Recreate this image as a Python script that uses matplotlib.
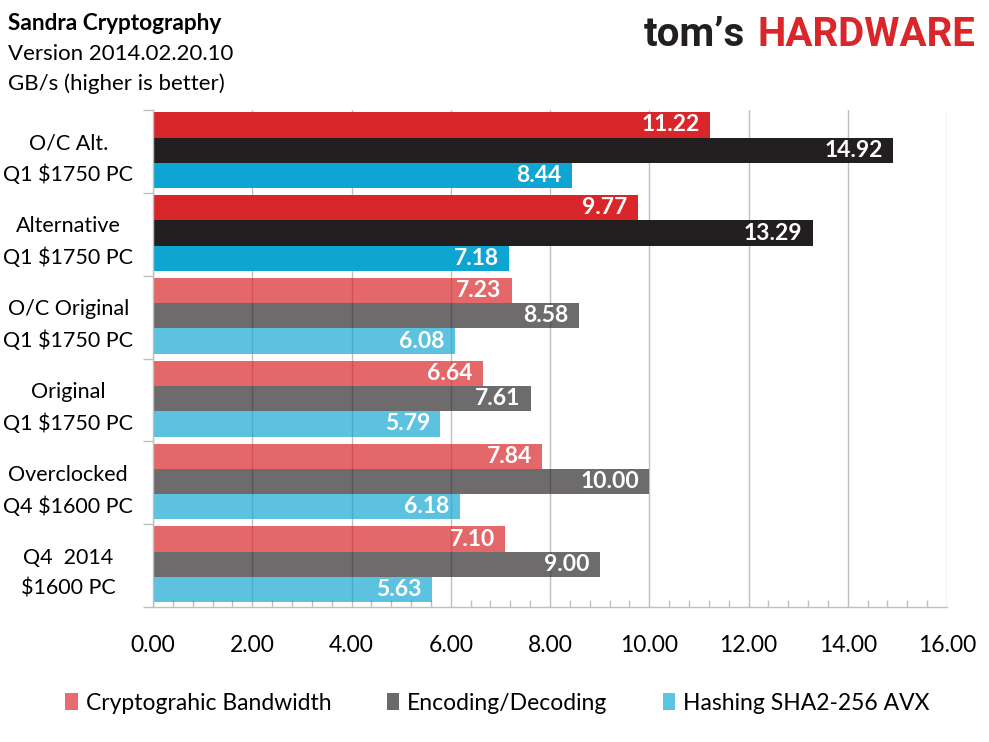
import numpy as np
import matplotlib
matplotlib.use("Agg")
import matplotlib.pyplot as plt
from matplotlib.patches import Patch
from matplotlib.ticker import MultipleLocator, FormatStrFormatter

plt.rcParams["font.family"] = ["Lato", "DejaVu Sans"]

# --- data (top to bottom as in the chart) ---
systems = [
    "O/C Alt.\nQ1 $1750 PC",
    "Alternative\nQ1 $1750 PC",
    "O/C Original\nQ1 $1750 PC",
    "Original\nQ1 $1750 PC",
    "Overclocked\nQ4 $1600 PC",
    "Q4  2014\n$1600 PC",
]
crypto_bw = [11.22, 9.77, 7.23, 6.64, 7.84, 7.10]
encode_decode = [14.92, 13.29, 8.58, 7.61, 10.00, 9.00]
hashing = [8.44, 7.18, 6.08, 5.79, 6.18, 5.63]
highlighted = [True, True, False, False, False, False]

series_names = ["Cryptograhic Bandwidth", "Encoding/Decoding", "Hashing SHA2-256 AVX"]
base_colors = ["#D9262B", "#231F20", "#0EA5D2"]
light_colors = ["#E86C6F", "#6B6969", "#5BC4E1"]

# --- figure ---
fig = plt.figure(figsize=(9.89, 7.42), dpi=100)
ax = fig.add_axes([153 / 989, 1 - 607 / 742, (947 - 153) / 989, (607 - 110) / 742])

grid_col = "#BFBFBF"
y = np.arange(len(systems))
bar_h = 0.305
offsets = [-0.32, -0.015, 0.29]
alphas = [0.7, 0.66, 0.67]

for k, vals in enumerate([crypto_bw, encode_decode, hashing]):
    for i, v in enumerate(vals):
        a = 1.0 if highlighted[i] else alphas[k]
        ax.barh(y[i] + offsets[k], v, height=bar_h, color=base_colors[k],
                alpha=a, linewidth=0, zorder=2)
        ax.annotate(f"{v:.2f}", xy=(v, y[i] + offsets[k]), xytext=(-7.5, 0),
                    textcoords="offset points", ha="right", va="center",
                    color="white", fontsize=16.5, fontweight="bold", zorder=4)

ax.set_xlim(0, 16)
ax.set_ylim(len(systems) - 0.5, -0.5)

# x axis
ax.xaxis.set_major_locator(MultipleLocator(2))
ax.xaxis.set_minor_locator(MultipleLocator(0.4))
ax.xaxis.set_major_formatter(FormatStrFormatter("%.2f"))
ax.tick_params(axis="x", which="major", direction="in", length=0,
               labelsize=16.5, pad=20, colors="#000000")
ax.tick_params(axis="x", which="minor", direction="in", length=5,
               color=grid_col, width=1)
ax.grid(axis="x", which="major", color=grid_col, linewidth=1, zorder=1)
ax.set_axisbelow(True)

# y axis: labels at centres, tick marks at group boundaries
ax.set_yticks(y)
ax.set_yticklabels(systems, fontsize=15.5, linespacing=1.7)
for lbl in ax.get_yticklabels():
    lbl.set_horizontalalignment("center")
ax.tick_params(axis="y", which="major", length=0, pad=61)
ax.set_yticks(np.arange(-0.5, len(systems)), minor=True)
ax.tick_params(axis="y", which="minor", direction="out", length=7,
               color=grid_col, width=1)

for s in ["top", "right"]:
    ax.spines[s].set_visible(False)
for s in ["left", "bottom"]:
    ax.spines[s].set_color(grid_col)
    ax.spines[s].set_linewidth(1)

# --- titles ---
fig.text(8 / 989, 1 - 30 / 742, "Sandra Cryptography", fontsize=16.3,
         fontweight="bold", va="baseline", ha="left")
fig.text(8 / 989, 1 - 60 / 742, "Version 2014.02.20.10", fontsize=16,
         va="baseline", ha="left")
fig.text(8 / 989, 1 - 90 / 742, "GB/s (higher is better)", fontsize=16,
         va="baseline", ha="left")

# logo
fig.text(975 / 989, 1 - 46 / 742, "HARDWARE", fontsize=29, fontweight="bold",
         color="#D9262B", ha="right", va="baseline", family=["Roboto"])
fig.text(745 / 989, 1 - 46 / 742, "tom\u2019s", fontsize=29, fontweight="bold",
         color="#231F20", ha="right", va="baseline", family=["Roboto"])

# --- legend ---
handles = [Patch(facecolor=c, edgecolor="none") for c in light_colors]
fig.legend(handles, series_names, loc="center", bbox_to_anchor=(0.503, 1 - 703 / 742),
           ncol=3, frameon=False, fontsize=16.5, handlelength=0.55, handleheight=0.8,
           handletextpad=0.35, columnspacing=2.4)

fig.savefig("out.png", dpi=100)
